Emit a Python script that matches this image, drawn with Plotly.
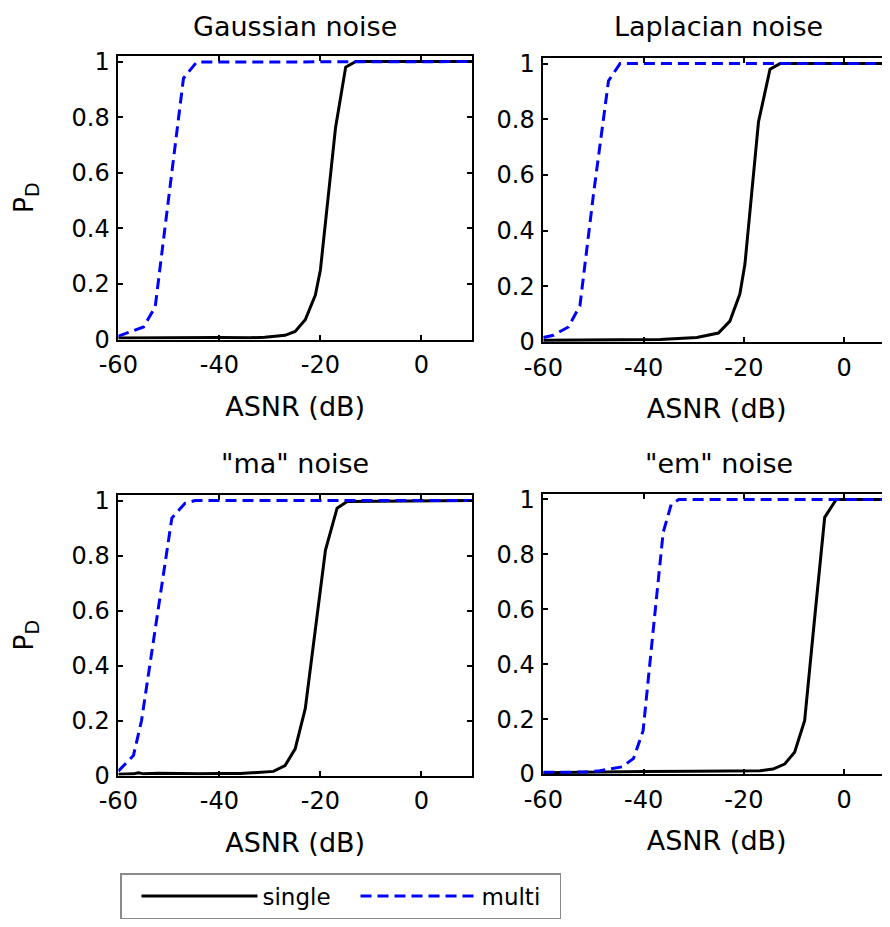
import plotly.graph_objects as go

# The page adds an 8 px body margin, so the figure is placed at (8, 8)
OFF = 8
W, H = 890 - OFF, 927 - OFF

# ---------------- data ----------------
x_ticks = [-60, -40, -20, 0]
y_ticks = [0, 0.2, 0.4, 0.6, 0.8, 1]
y_tick_labels = ["0", "0.2", "0.4", "0.6", "0.8", "1"]
panel_titles = ["Gaussian noise", "Laplacian noise", '"ma" noise', '"em" noise']
series_names = ["single", "multi"]

gauss_single_x = [-60, -55, -50, -45, -40, -34, -31, -27, -25, -23, -21, -20, -17, -15, -13, 10]
gauss_single_y = [0.005, 0.006, 0.007, 0.006, 0.007, 0.006, 0.008, 0.015, 0.029, 0.071, 0.16, 0.25, 0.763, 0.98, 1.0, 1.0]
gauss_multi_x = [-60, -55.0, -52.7, -50.0, -47.1, -44.5, 10]
gauss_multi_y = [0.012, 0.045, 0.117, 0.51, 0.94, 0.998, 1.0]

lap_single_x = [-60, -50, -40, -36.7, -29.4, -25.1, -22.8, -20.8, -19.8, -17.1, -14.8, -12.8, 10]
lap_single_y = [0.006, 0.007, 0.007, 0.009, 0.016, 0.032, 0.075, 0.173, 0.28, 0.79, 0.98, 1.0, 1.0]
lap_multi_x = [-60, -58.0, -55.0, -52.7, -50.0, -47.0, -44.7, 10]
lap_multi_y = [0.016, 0.024, 0.054, 0.13, 0.53, 0.938, 1.0, 1.0]

ma_single_x = [-60, -57, -56, -55, -52, -48, -44, -40, -35.9, -29.3, -27.0, -25.0, -23.0, -19.0, -16.7, -14.7, 10]
ma_single_y = [0.005, 0.006, 0.01, 0.006, 0.008, 0.006, 0.006, 0.007, 0.007, 0.015, 0.036, 0.097, 0.243, 0.82, 0.972, 0.996, 1.0]
ma_multi_x = [-60, -57.0, -55.4, -52.5, -49.4, -46.8, -44.8, 10]
ma_multi_y = [0.016, 0.073, 0.2, 0.56, 0.936, 0.99, 1.0, 1.0]

em_single_x = [-60, -50, -40, -30, -20, -16.8, -14.2, -11.9, -9.9, -7.9, -6.0, -3.9, -1.6, 10]
em_single_y = [0.005, 0.008, 0.009, 0.01, 0.011, 0.012, 0.018, 0.036, 0.079, 0.194, 0.55, 0.935, 1.0, 1.0]
em_multi_x = [-60, -52, -48.7, -44.3, -42.0, -40.1, -38.0, -36.1, -34.5, -33.0, 10]
em_multi_y = [0.006, 0.007, 0.012, 0.026, 0.057, 0.158, 0.54, 0.88, 0.982, 1.0, 1.0]

panels = [
    (gauss_single_x, gauss_single_y, gauss_multi_x, gauss_multi_y),
    (lap_single_x, lap_single_y, lap_multi_x, lap_multi_y),
    (ma_single_x, ma_single_y, ma_multi_x, ma_multi_y),
    (em_single_x, em_single_y, em_multi_x, em_multi_y),
]

# ---------------- layout geometry (page pixels -> paper) ----------------
def px_x(p):
    return (p - OFF) / W

def px_y(p):
    return 1 - (p - OFF) / H

# (left, right, top, bottom) in page pixels; right panels are cut by the page edge
boxes = [
    (118.3, 472.0, 56.0, 339.5),
    (543.3, 890.0, 58.0, 342.0),
    (118.3, 472.0, 495.0, 775.5),
    (543.3, 890.0, 494.0, 774.0),
]
x_ranges = [[-60, 10], [-60, 9.12], [-60, 10], [-60, 9.12]]
title_centers = [(295, 27), (718.5, 27), (295, 463), (718.5, 463)]

FONT = "DejaVu Sans, Verdana, sans-serif"
FS_TICK = 24
FS_LABEL = 27
FS_LEG = 23

fig = go.Figure()

colors = ["#000000", "#0000ff"]
dashes = ["solid", "11px,6px"]

for i, (sx, sy, mx, my) in enumerate(panels):
    suffix = "" if i == 0 else str(i + 1)
    fig.add_trace(go.Scatter(
        x=sx, y=sy, mode="lines", name=series_names[0],
        line=dict(color=colors[0], width=3, dash=dashes[0]),
        xaxis="x" + suffix, yaxis="y" + suffix, showlegend=(i == 0),
        legendrank=1,
    ))
    fig.add_trace(go.Scatter(
        x=mx, y=my, mode="lines", name=series_names[1],
        line=dict(color=colors[1], width=3, dash=dashes[1]),
        xaxis="x" + suffix, yaxis="y" + suffix, showlegend=(i == 0),
        legendrank=2,
    ))

layout = dict(
    width=W, height=H,
    margin=dict(l=0, r=0, t=0, b=0, autoexpand=False),
    paper_bgcolor="white", plot_bgcolor="white",
    template="none",
    font=dict(family=FONT, size=FS_TICK, color="black"),
    showlegend=True,
    legend=dict(
        orientation="h", x=px_x(120), y=px_y(873), xanchor="left", yanchor="top",
        bordercolor="#8a8a8a", borderwidth=1.5, bgcolor="white",
        font=dict(family=FONT, size=FS_LEG, color="black"),
        itemwidth=116, entrywidth=73, entrywidthmode="pixels",
        indentation=15,
    ),
    annotations=[],
)

for i, (l, r, t, b) in enumerate(boxes):
    suffix = "" if i == 0 else str(i + 1)
    is_right = i % 2 == 1
    xa = dict(
        domain=[px_x(l), px_x(r)], anchor="y" + suffix, range=x_ranges[i],
        tickmode="array", tickvals=x_ticks, ticktext=[str(v) for v in x_ticks],
        ticks="inside", ticklen=5, tickwidth=1.5, tickcolor="black",
        showline=True, linecolor="black", linewidth=1.5, mirror="ticks",
        showgrid=False, zeroline=False, automargin=False,
        tickfont=dict(family=FONT, size=FS_TICK, color="black"),
        ticklabelstandoff=3,
        title=dict(text="ASNR (dB)", font=dict(family=FONT, size=FS_LABEL, color="black"), standoff=19),
    )
    ya = dict(
        domain=[px_y(b), px_y(t)], anchor="x" + suffix, range=[0, 1.02],
        tickmode="array", tickvals=y_ticks, ticktext=y_tick_labels,
        ticks="inside", ticklen=5, tickwidth=1.5, tickcolor="black",
        showline=True, linecolor="black", linewidth=1.5,
        mirror=False if is_right else "ticks",
        showgrid=False, zeroline=False, automargin=False,
        tickfont=dict(family=FONT, size=FS_TICK, color="black"),
        ticklabelstandoff=2,
    )
    if not is_right:
        ya["title"] = dict(text="P<sub>D</sub>", font=dict(family=FONT, size=FS_LABEL, color="black"), standoff=30)
    layout["xaxis" + suffix] = xa
    layout["yaxis" + suffix] = ya
    cx, cy = title_centers[i]
    layout["annotations"].append(dict(
        text=panel_titles[i], x=px_x(cx), y=px_y(cy), xref="paper", yref="paper",
        xanchor="center", yanchor="middle", showarrow=False,
        font=dict(family=FONT, size=FS_LABEL, color="black"),
    ))

fig.update_layout(**layout)
fig.write_html("out.html")
